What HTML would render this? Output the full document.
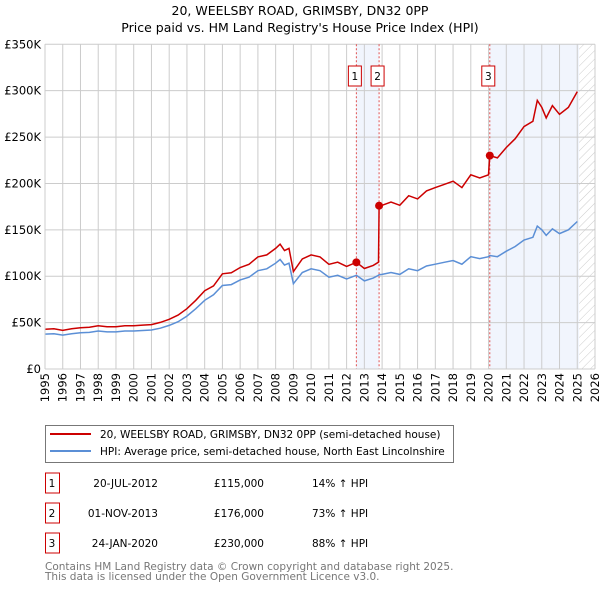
<!DOCTYPE html>
<html><head><meta charset="utf-8"><style>
body{margin:0;background:#fff;font-family:"Liberation Sans","DejaVu Sans",sans-serif}
svg text{font-family:"DejaVu Sans","Liberation Sans",sans-serif}
</style></head><body>
<svg id="c" width="600" height="590" xmlns="http://www.w3.org/2000/svg">
<text x="300" y="15" text-anchor="middle" font-size="12.5">20, WEELSBY ROAD, GRIMSBY, DN32 0PP</text>
<text x="300" y="32" text-anchor="middle" font-size="12.5">Price paid vs. HM Land Registry's House Price Index (HPI)</text>
<g id="plot"></g>
<g>
<rect x="45.5" y="425.5" width="408" height="37" fill="#fff" stroke="#777"/>
<line x1="50" y1="434" x2="91" y2="434" stroke="#cc0000" stroke-width="2"/>
<text x="100" y="438" font-size="10.5">20, WEELSBY ROAD, GRIMSBY, DN32 0PP (semi-detached house)</text>
<line x1="50" y1="451" x2="91" y2="451" stroke="#5b8fd6" stroke-width="2"/>
<text x="100" y="455" font-size="10.5">HPI: Average price, semi-detached house, North East Lincolnshire</text>
</g>
<g id="tbl" font-size="10.5"></g>
<text x="45" y="570" font-size="10.5" fill="#777">Contains HM Land Registry data © Crown copyright and database right 2025.</text>
<text x="45" y="580" font-size="10.5" fill="#777">This data is licensed under the Open Government Licence v3.0.</text>
</svg>
<script>
const times=[1995,1995.5,1996,1996.5,1997,1997.5,1998,1998.5,1999,1999.5,2000,2000.5,2001,2001.5,2002,2002.5,2003,2003.5,2004,2004.5,2005,2005.5,2006,2006.5,2007,2007.5,2008,2008.25,2008.5,2008.75,2009,2009.5,2010,2010.5,2011,2011.5,2012,2012.55,2013,2013.5,2013.8,2013.83,2014,2014.5,2015,2015.5,2016,2016.5,2017,2017.5,2018,2018.5,2019,2019.5,2020,2020.07,2020.5,2021,2021.5,2022,2022.5,2022.75,2023,2023.25,2023.6,2024,2024.5,2025];
const hpiValues=[37.6,38,36.5,38,39,39.5,41,40,40,41,41,41.5,42,44,47,51,57,65,74,80,90,91,96,99,106,108,114,118,112,114,92,104,108,106,99,101,97,101,95,98,101,101.7,102,104,102,108,106,111,113,115,117,113,121,119,121,122.3,121,127,132,139,142,154,150,144,151,146,150,159];
const propertyValues=[42.9,43.3,41.6,43.3,44.5,45,46.7,45.6,45.6,46.7,46.7,47.3,47.9,50.2,53.6,58.1,65,74.1,84.4,89.6,102.6,103.7,109.4,112.9,120.8,123,130,134.5,127.7,130,105,118.6,123,120.8,112.9,115.1,110.6,115,108.3,111.7,115.1,176,176.5,180,176.5,186.8,183.4,192,195.5,199,202.4,195.5,209.3,205.9,209.3,230,227.5,238.8,248.2,261.3,267,289.5,282,270.7,283.9,274.5,282,299];
const saleLabels=["1","2","3"];
const saleTimes=[2012.55,2013.83,2020.07];
const salePrices=[115,176,230];
const saleDates=["20-JUL-2012","01-NOV-2013","24-JAN-2020"];
const salePriceText=["£115,000","£176,000","£230,000"];
const saleHpiText=["14% ↑ HPI","73% ↑ HPI","88% ↑ HPI"];
const yTicks=[0,50,100,150,200,250,300,350];
const yTickLabels=["£0","£50K","£100K","£150K","£200K","£250K","£300K","£350K"];
const xTicks=[1995,1996,1997,1998,1999,2000,2001,2002,2003,2004,2005,2006,2007,2008,2009,2010,2011,2012,2013,2014,2015,2016,2017,2018,2019,2020,2021,2022,2023,2024,2025,2026];

const NS="http://www.w3.org/2000/svg";
const X0=45,X1=595,Y0=369,Y1=44.3;
const xs=t=>X0+(t-1995)/(2026-1995)*(X1-X0);
const ys=v=>Y0-v/350*(Y0-Y1);
const plot=document.getElementById('plot');
function mk(tag,attrs,parent){const e=document.createElementNS(NS,tag);for(const k in attrs)e.setAttribute(k,attrs[k]);(parent||plot).appendChild(e);return e;}
// shading
let s1=mk('rect',{x:xs(saleTimes[0]),y:Y1,width:xs(saleTimes[1])-xs(saleTimes[0]),height:Y0-Y1,fill:'#eef3fc',opacity:0.8});


let s2=mk('rect',{x:xs(saleTimes[2]),y:Y1,width:xs(2025.1)-xs(saleTimes[2]),height:Y0-Y1,fill:'#eef3fc',opacity:0.8});


// hatch
const defs=mk('defs',{});
const pat=mk('pattern',{id:'h',width:6,height:6,patternUnits:'userSpaceOnUse',patternTransform:'rotate(45)'},defs);
mk('line',{x1:0,y1:0,x2:0,y2:6,stroke:'#ccc','stroke-width':1},pat);
let hz=mk('rect',{x:xs(2025.1),y:Y1,width:X1-xs(2025.1),height:Y0-Y1,fill:'url(#h)'});


// grid
yTicks.forEach((v,i)=>{
 let l=mk('line',{x1:X0,x2:X1,y1:ys(v),y2:ys(v),stroke:'#ccc','stroke-width':1});
 
 
 let t=mk('text',{x:X0-4,y:ys(v)+4,'text-anchor':'end','font-size':11.5});
 
 
 t.textContent=yTickLabels[i];
});
xTicks.forEach(yr=>{
 let l=mk('line',{x1:xs(yr),x2:xs(yr),y1:Y1,y2:Y0,stroke:'#ccc','stroke-width':1});
 
 
 let t=mk('text',{x:0,y:0,'text-anchor':'end','font-size':11.5,transform:`translate(${xs(yr)+4},${Y0+4}) rotate(-90)`});
 
 
 t.textContent=yr;
});
// sale lines
saleTimes.forEach(st=>{
 let l=mk('line',{x1:xs(st),x2:xs(st),y1:Y1,y2:Y0,stroke:'#e05050','stroke-width':1,'stroke-dasharray':'2,2'});
 
 
});
function path(vals,color,name){
 const d=vals.map((v,i)=>(i?'L':'M')+xs(times[i]).toFixed(1)+','+ys(v).toFixed(1)).join('');
 let p=mk('path',{d:d,fill:'none',stroke:color,'stroke-width':1.5});
 
 
}
path(hpiValues,'#5b8fd6','hpi-line');
path(propertyValues,'#cc0000','property-price-line');
saleTimes.forEach((st,i)=>{
 let c=mk('circle',{cx:xs(st),cy:ys(salePrices[i]),r:4,fill:'#cc0000'});
 
 
 let b=mk('rect',{x:xs(st)-8,y:66,width:13,height:20,fill:'#fff',stroke:'#cc0000'});
 
 
 let t=mk('text',{x:xs(st)-1.5,y:80,'text-anchor':'middle','font-size':10.5});
 
 
 t.textContent=saleLabels[i];
});
// axes
mk('line',{x1:X0,x2:X0,y1:Y1,y2:Y0,stroke:'#ccc'});
mk('line',{x1:X0,x2:X1,y1:Y0,y2:Y0,stroke:'#ccc'});
// table
const tbl=document.getElementById('tbl');
saleLabels.forEach((lb,i)=>{
 const y=487+i*30;
 let b=mk('rect',{x:45.5,y:y-14,width:14,height:20,fill:'#fff',stroke:'#cc0000'},tbl);
 
 
 const cells=[[52,lb,'middle'],[158,saleDates[i],'end'],[264,salePriceText[i],'end'],[312,saleHpiText[i],'start']];
 cells.forEach(c=>{
  let t=mk('text',{x:c[0],y:y,'text-anchor':c[2]},tbl);
  
  
  t.textContent=c[1];
 });
});
</script>
</body></html>
